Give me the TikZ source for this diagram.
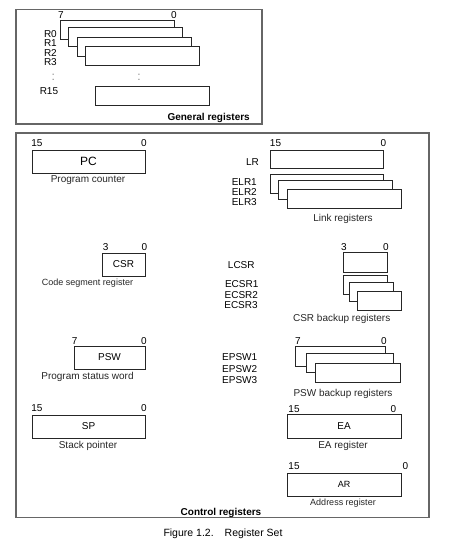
\documentclass[tikz,border=0pt]{standalone}
\usepackage{fontspec}
\setmainfont{Liberation Sans}
\begin{document}
\begin{tikzpicture}[x=1pt,y=-1pt,
  reg/.style={draw=black!85, line width=1pt, fill=white, inner sep=0pt, outer sep=0pt, font=\fontsize{10}{12}\selectfont},
  frame/.style={draw=black!60, line width=1.2pt},
  lbl/.style={font=\fontsize{10}{12}\selectfont, inner sep=0pt, text=black},
  desc/.style={font=\fontsize{10}{12}\selectfont, inner sep=0pt, text=black!85},
  smalldesc/.style={font=\fontsize{9}{11}\selectfont, inner sep=0pt, text=black!85},
  titl/.style={font=\bfseries\fontsize{10}{12}\selectfont, inner sep=0pt},
  dots/.style={font=\fontsize{12}{12}\selectfont, inner sep=0pt, text=black!45}
]
\useasboundingbox (0,0) rectangle (459,554);

% frames
\draw[frame] (16,9.5) rectangle (262,124);
\draw[frame] (16,133) rectangle (429,517.5);

% ===== General registers =====
\node[lbl] (g7) at (61,15) {7};
\node[lbl] (g0) at (174,15) {0};
\node[reg, minimum width=114, minimum height=19] (r0) at (117,29.5) {};
\node[reg, minimum width=114, minimum height=19] (r1) at (125,37) {};
\node[reg, minimum width=114, minimum height=19] (r2) at (134,46.5) {};
\node[reg, minimum width=114, minimum height=19] (r3) at (142,55.5) {};
\node[lbl, anchor=east] (lr0) at (57,34) {R0};
\node[lbl, anchor=east] (lr1) at (57,43.3) {R1};
\node[lbl, anchor=east] (lr2) at (57,53) {R2};
\node[lbl, anchor=east] (lr3) at (57,62) {R3};
\node[dots] (d1) at (53.3,77) {:};
\node[dots] (d2) at (139,77) {:};
\node[lbl, anchor=east] (lr15) at (58.3,91) {R15};
\node[reg, minimum width=114, minimum height=19] (r15) at (152,95.5) {};
\node[titl, anchor=east] (gt) at (250,118) {General registers};

% ===== Control registers: left column =====
\node[lbl] (pc15) at (37,143) {15};
\node[lbl] (pc0) at (144,143) {0};
\node[reg, minimum width=113, minimum height=23, font=\fontsize{12}{14}\selectfont] (pc) at (88.5,161.5) {PC};
\node[desc] (pcd) at (88,180) {Program counter};

\node[lbl] (csr3) at (105.7,247) {3};
\node[lbl] (csr0) at (144.3,247) {0};
\node[reg, minimum width=43, minimum height=23] (csr) at (123.5,264.5) {CSR};
\node[smalldesc] (csrd) at (87.5,283.5) {Code segment register};

\node[lbl] (psw7) at (74.7,340.7) {7};
\node[lbl] (psw0) at (144,340.7) {0};
\node[reg, minimum width=71, minimum height=23] (psw) at (109.5,357.5) {PSW};
\node[desc] (pswd) at (87.5,376.5) {Program status word};

\node[lbl] (sp15) at (37,407.7) {15};
\node[lbl] (sp0) at (144,407.7) {0};
\node[reg, minimum width=113, minimum height=23] (sp) at (88.5,426.5) {SP};
\node[desc] (spd) at (88,445.5) {Stack pointer};

% ===== Control registers: right column =====
\node[lbl] (lr15b) at (275.5,143) {15};
\node[lbl] (lr0b) at (383.5,143) {0};
\node[reg, minimum width=113, minimum height=18] (lr) at (326.5,159) {};
\node[lbl, anchor=east] (lrl) at (259,162.3) {LR};
\node[reg, minimum width=113, minimum height=19] (elr1) at (326.5,183.5) {};
\node[reg, minimum width=114, minimum height=19] (elr2) at (335,190) {};
\node[reg, minimum width=114, minimum height=19] (elr3) at (344,198.5) {};
\node[lbl, anchor=east] (elr1l) at (257,182.3) {ELR1};
\node[lbl, anchor=east] (elr2l) at (257,191.7) {ELR2};
\node[lbl, anchor=east] (elr3l) at (257,202.3) {ELR3};
\node[desc] (elrd) at (343,219) {Link registers};

\node[lbl] (lcsr3) at (344,246.7) {3};
\node[lbl] (lcsr0) at (386,246.7) {0};
\node[reg, minimum width=44, minimum height=20] (lcsr) at (365,262) {};
\node[lbl] (lcsrl) at (241.3,265) {LCSR};
\node[reg, minimum width=44, minimum height=19] (ecsr1) at (365,284.5) {};
\node[reg, minimum width=43.3, minimum height=19] (ecsr2) at (371.5,291.5) {};
\node[reg, minimum width=44, minimum height=19] (ecsr3) at (379,300.5) {};
\node[lbl] (ecsr1l) at (241.7,284) {ECSR1};
\node[lbl] (ecsr2l) at (241.3,295) {ECSR2};
\node[lbl] (ecsr3l) at (241,305) {ECSR3};
\node[desc] (ecsrd) at (341.7,319.3) {CSR backup registers};

\node[lbl] (epsw7) at (298,340.7) {7};
\node[lbl] (epsw0) at (384,340.7) {0};
\node[reg, minimum width=90, minimum height=19.5] (epsw1) at (340,356.3) {};
\node[reg, minimum width=86.6, minimum height=19.4] (epsw2) at (350,363) {};
\node[reg, minimum width=85.3, minimum height=19.4] (epsw3) at (358.3,373) {};
\node[lbl] (epsw1l) at (239.7,357.3) {EPSW1};
\node[lbl] (epsw2l) at (239.7,369.3) {EPSW2};
\node[lbl] (epsw3l) at (239.7,380) {EPSW3};
\node[desc] (epswd) at (343,393.7) {PSW backup registers};

\node[lbl] (ea15) at (294,409) {15};
\node[lbl] (ea0) at (393.5,409) {0};
\node[reg, minimum width=114, minimum height=24] (ea) at (344,426) {EA};
\node[desc] (ead) at (343,445.5) {EA register};

\node[lbl] (ar15) at (294,466) {15};
\node[lbl] (ar0) at (405.5,466) {0};
\node[reg, minimum width=114, minimum height=23, font=\fontsize{9}{11}\selectfont] (ar) at (344,484.5) {AR};
\node[smalldesc] (ard) at (343,503.3) {Address register};

\node[titl] (ct) at (221,513.3) {Control registers};

% caption
\node[font=\fontsize{10.5}{12}\selectfont, inner sep=0pt, anchor=west] (cap) at (163.3,533.3) {Figure 1.2.\hspace{11pt}Register Set};
\end{tikzpicture}
\end{document}
